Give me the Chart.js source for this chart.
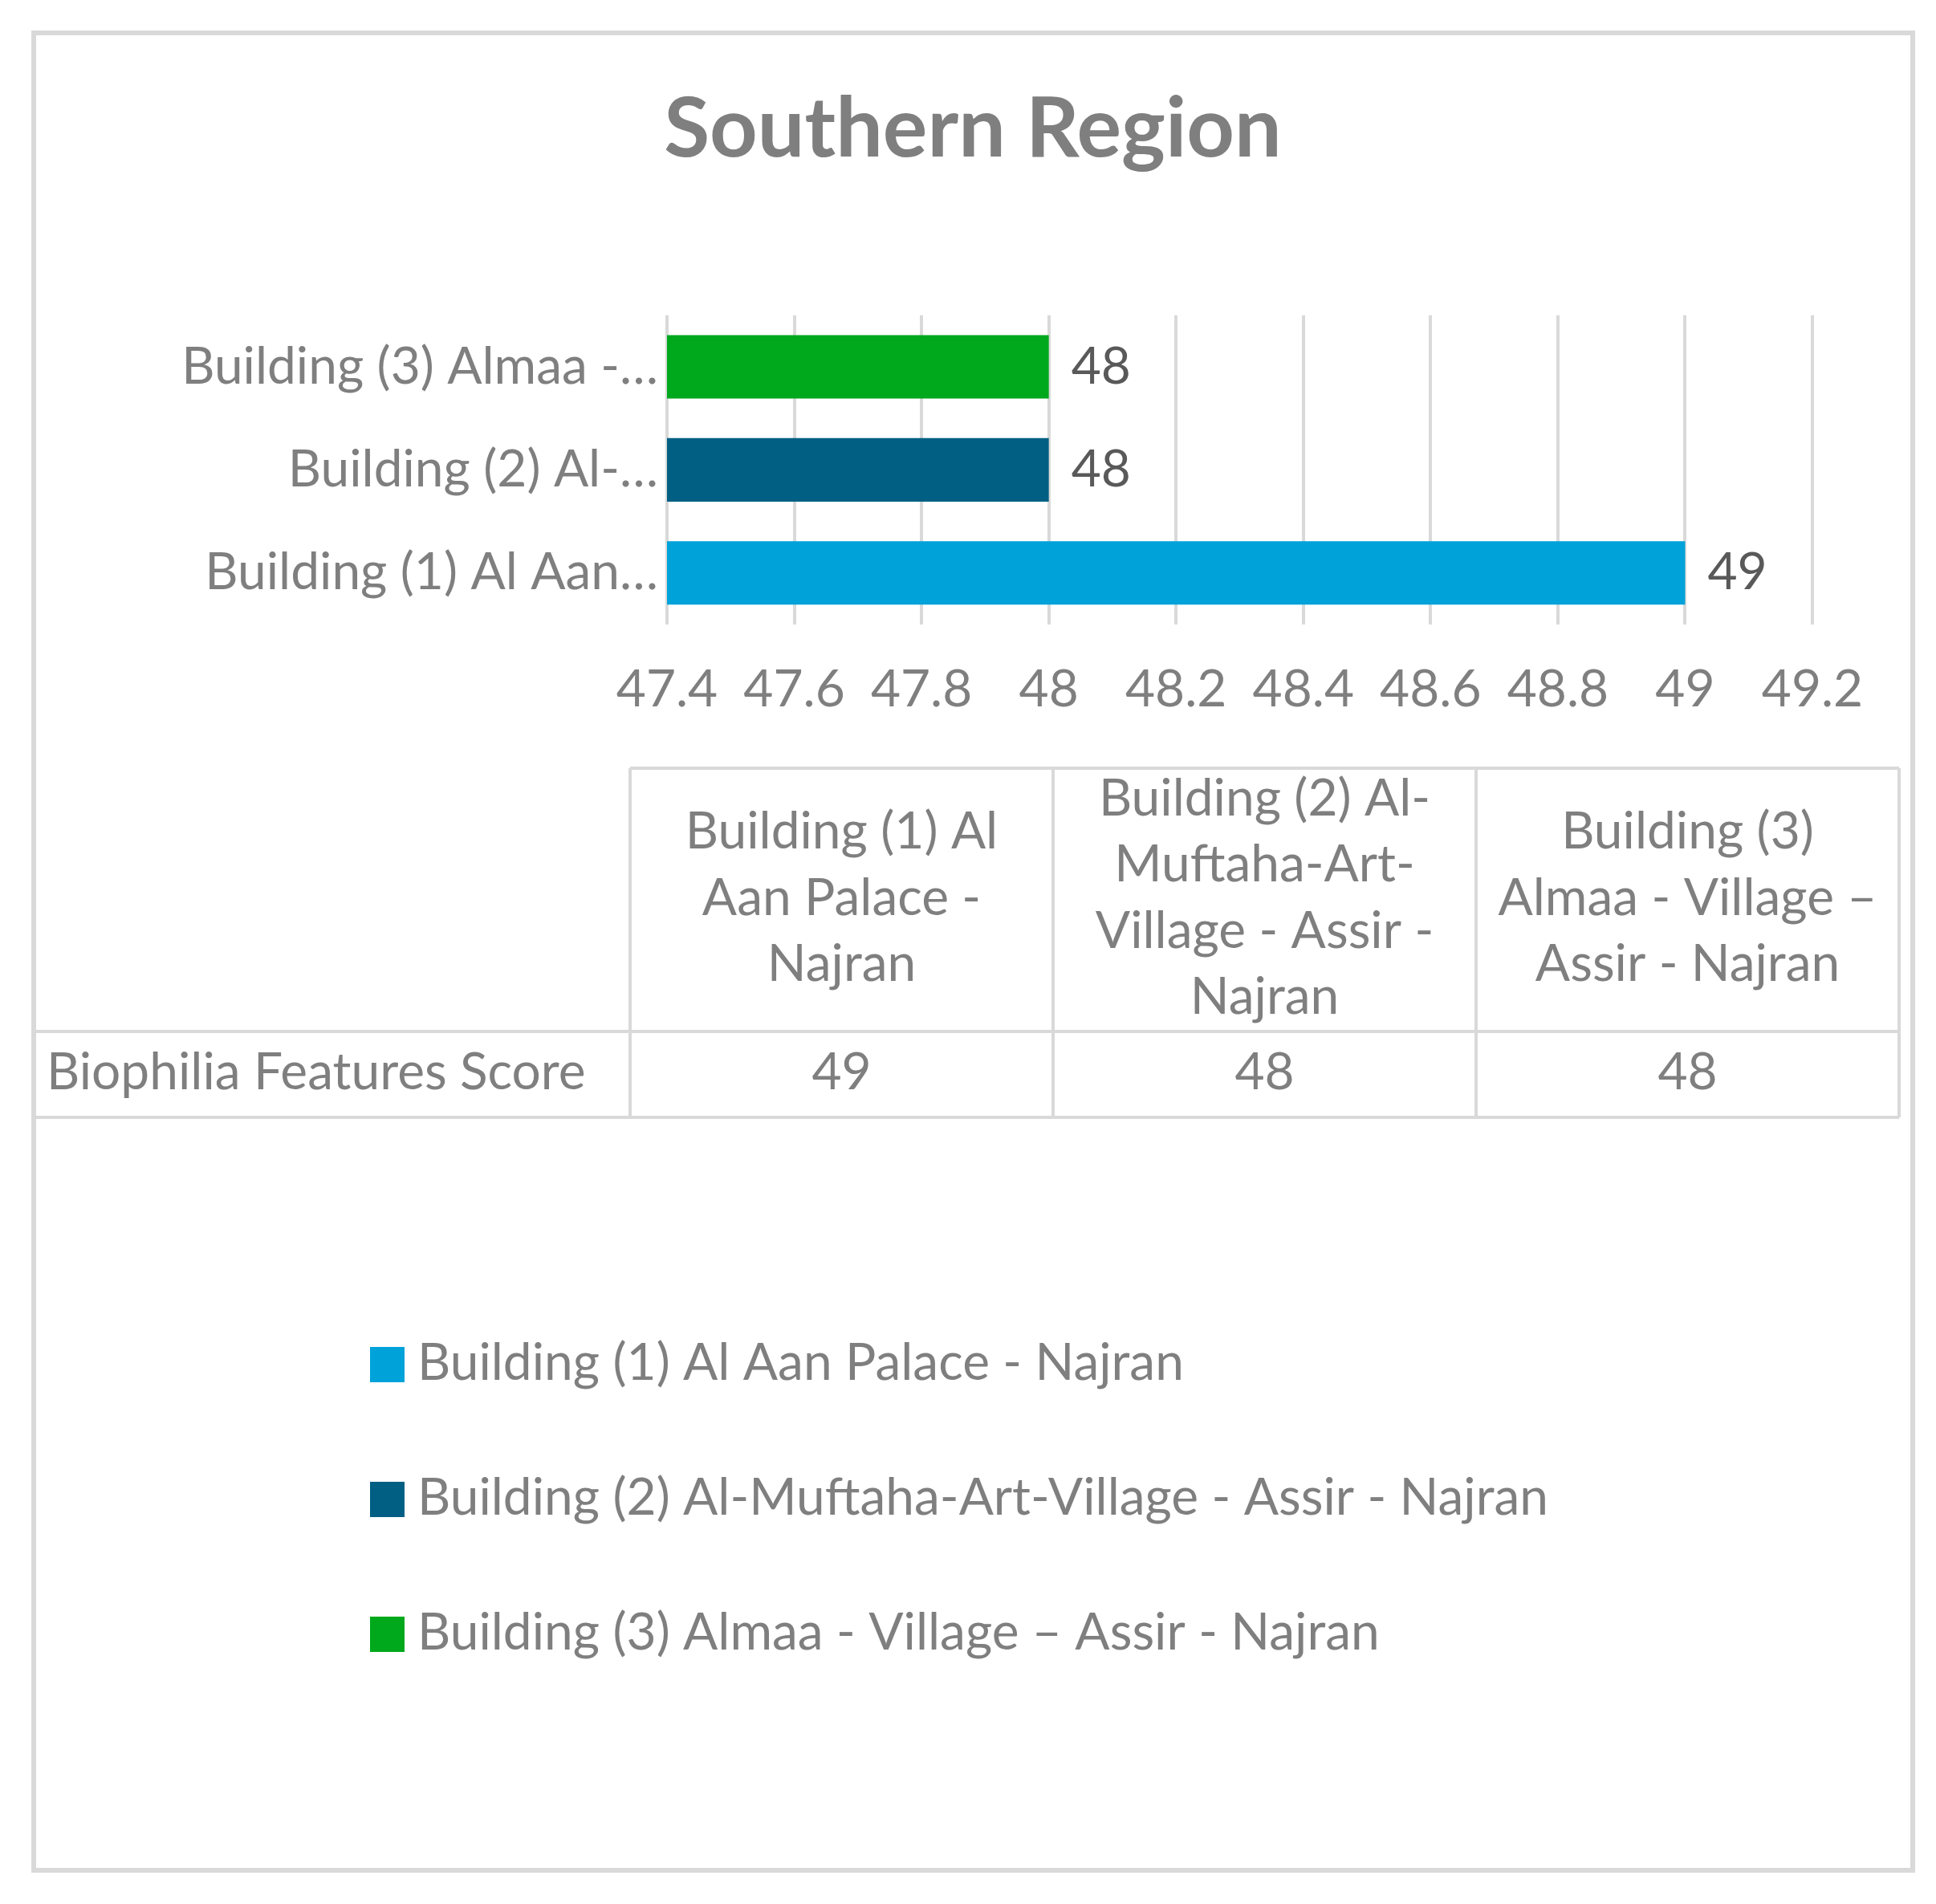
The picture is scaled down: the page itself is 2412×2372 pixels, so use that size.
<!DOCTYPE html>
<html>
<head>
<meta charset="utf-8">
<title>Southern Region</title>
<script src="https://cdn.jsdelivr.net/npm/chart.js@4.4.1/dist/chart.umd.min.js"></script>
<style>
  html, body { margin: 0; padding: 0; background: #fff; }
  #wrap { width: 2412px; height: 2372px; }
</style>
</head>
<body>
<div id="wrap"><canvas id="regionChart" width="2412" height="2372"></canvas></div>
<script>
// data
const categories = [
  'Building (1) Al Aan Palace - Najran',
  'Building (2) Al-Muftaha-Art-Village - Assir - Najran',
  'Building (3) Almaa - Village – Assir - Najran'
];
const axisLabels = ['Building (1) Al Aan…', 'Building (2) Al-…', 'Building (3) Almaa -…'];
const scores = [49, 48, 48];
const seriesName = 'Biophilia Features Score';
const barColors = ['#00A2DA', '#005F83', '#00A81C'];
const xTicks = [47.4, 47.6, 47.8, 48, 48.2, 48.4, 48.6, 48.8, 49, 49.2];

const FONT = 'Lato';
const FS = 64;
const GREY = '#7f7f7f';
const LINE = '#d9d9d9';

function wrapText(c, text, maxW) {
  // break after spaces and after hyphens inside words (like Excel does)
  const pieces = [];
  text.split(' ').forEach((word) => {
    const parts = word.match(/[^-]+-?|-/g) || [word];
    parts.forEach((p, i) => pieces.push({ t: p, sp: i === 0 }));
  });
  const lines = [];
  let line = '';
  pieces.forEach((p) => {
    const next = line ? line + (p.sp ? ' ' : '') + p.t : p.t;
    if (line && c.measureText(next).width > maxW) {
      lines.push(line);
      line = p.t;
    } else {
      line = next;
    }
  });
  if (line) lines.push(line);
  return lines;
}

// outer frame, data table and legend
const frameAndTable = {
  id: 'frameAndTable',
  beforeDraw(chart) {
    const c = chart.ctx;
    c.save();
    c.fillStyle = '#fff';
    c.fillRect(0, 0, chart.width, chart.height);
    c.strokeStyle = LINE;
    c.lineWidth = 6;
    c.strokeRect(42, 41, 2341, 2289);
    c.restore();
  },
  afterDraw(chart) {
    const c = chart.ctx;
    const top = 957, headBottom = 1285, rowBottom = 1392;
    const left = 43, firstCol = 785, right = 2366;
    const colW = (right - firstCol) / categories.length;

    c.save();
    c.strokeStyle = LINE;
    c.lineWidth = 4;
    c.beginPath();
    c.moveTo(firstCol, top); c.lineTo(right, top);
    c.moveTo(left, headBottom); c.lineTo(right, headBottom);
    c.moveTo(left, rowBottom); c.lineTo(right, rowBottom);
    c.moveTo(left, headBottom); c.lineTo(left, rowBottom);
    for (let i = 0; i <= categories.length; i++) {
      c.moveTo(firstCol + i * colW, top);
      c.lineTo(firstCol + i * colW, rowBottom);
    }
    c.stroke();

    c.font = FS + 'px ' + FONT;
    c.fillStyle = GREY;
    c.textBaseline = 'middle';
    c.textAlign = 'center';
    const lh = 82.5;
    const headMid = (top + headBottom) / 2 - 2;
    categories.forEach((name, i) => {
      const lines = wrapText(c, name, 496);
      const cx = firstCol + (i + 0.5) * colW;
      const y0 = headMid - (lines.length - 1) * lh / 2;
      lines.forEach((ln, k) => c.fillText(ln, cx, y0 + k * lh));
    });

    const rowMid = (headBottom + rowBottom) / 2 - 2;
    scores.forEach((v, i) => c.fillText(String(v), firstCol + (i + 0.5) * colW, rowMid));
    c.textAlign = 'left';
    c.fillText(seriesName, 58, rowMid);

    // legend, one entry per bar
    categories.forEach((name, i) => {
      const y = 1700 + i * 168;
      c.fillStyle = barColors[i];
      c.fillRect(461, y - 22, 43, 44);
      c.fillStyle = GREY;
      c.fillText(name, 520, y - 2);
    });
    c.restore();
  }
};

// value labels at the end of each bar
const valueLabels = {
  id: 'valueLabels',
  afterDatasetsDraw(chart) {
    const c = chart.ctx;
    const meta = chart.getDatasetMeta(0);
    c.save();
    c.font = FS + 'px ' + FONT;
    c.fillStyle = '#595959';
    c.textAlign = 'left';
    c.textBaseline = 'middle';
    meta.data.forEach((bar, i) => {
      c.fillText(String(scores[i]), bar.x + 28, bar.y);
    });
    c.restore();
  }
};

const ctx = document.getElementById('regionChart').getContext('2d');
const regionChart = new Chart(ctx, {
  type: 'bar',
  data: {
    labels: categories,
    datasets: [{
      label: seriesName,
      data: scores,
      backgroundColor: barColors,
      borderWidth: 0,
      categoryPercentage: 1,
      barPercentage: 0.616
    }]
  },
  options: {
    indexAxis: 'y',
    responsive: false,
    animation: false,
    layout: {
      // left/right chosen so the title centres on the frame
      padding: { top: 0, left: 166, right: 154, bottom: 1474 }
    },
    scales: {
      x: {
        min: xTicks[0],
        max: xTicks[xTicks.length - 1],
        afterBuildTicks: (scale) => {
          scale.ticks = xTicks.map((v) => ({ value: v }));
        },
        afterFit: (scale) => { scale.height = 120; },
        border: { display: false },
        grid: { color: LINE, lineWidth: 4, drawTicks: false },
        ticks: {
          autoSkip: false,
          maxRotation: 0,
          padding: 43,
          color: GREY,
          font: { family: FONT, size: FS },
          callback: (v) => String(+Number(v).toFixed(1))
        }
      },
      y: {
        reverse: true,
        afterFit: (scale) => {
          scale.width = 665;
          scale.paddingTop = 0;
          scale.paddingBottom = 0;
        },
        border: { display: false },
        grid: { display: false, drawTicks: false },
        ticks: {
          padding: 11,
          color: GREY,
          font: { family: FONT, size: FS },
          callback: (v, i) => axisLabels[i]
        }
      }
    },
    plugins: {
      legend: { display: false },
      tooltip: { enabled: false },
      title: {
        display: true,
        text: 'Southern Region',
        color: GREY,
        font: { family: FONT, size: 104, weight: 'bold' },
        padding: { top: 99, bottom: 169 }
      }
    }
  },
  plugins: [frameAndTable, valueLabels]
});
</script>
</body>
</html>
